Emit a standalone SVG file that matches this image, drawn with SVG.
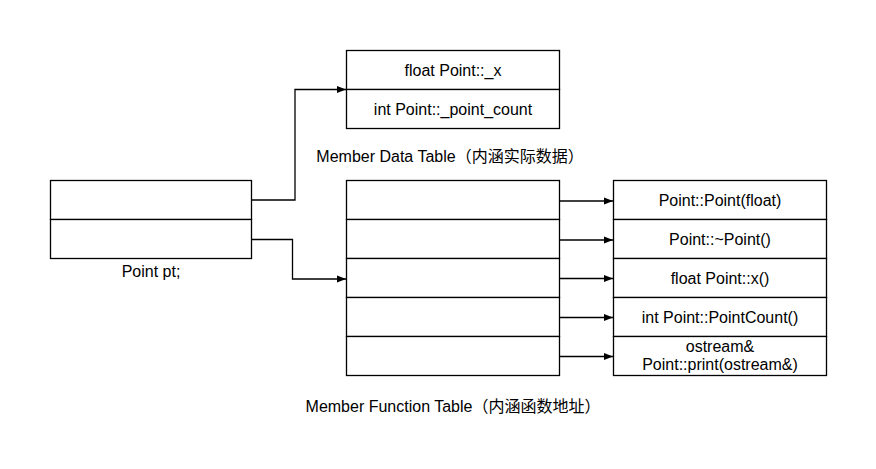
<svg xmlns="http://www.w3.org/2000/svg" width="876" height="469" viewBox="0 0 876 469">
<defs>
<style>
.box{fill:#fff;stroke:#000;stroke-width:1.3}
.t{font-family:"Liberation Sans","Noto Sans CJK SC",sans-serif;font-size:16px;fill:#000;text-anchor:middle}
.c{fill:none;stroke:#000;stroke-width:1.3}
</style>
<marker id="ah" markerWidth="10" markerHeight="8" refX="9" refY="4" orient="auto" markerUnits="userSpaceOnUse">
<path d="M0,0.5 L9,4 L0,7.5 Z" fill="#000"/>
</marker>
</defs>
<rect width="876" height="469" fill="#fff"/>
<g id="point-pt">
<rect class="box" x="50.5" y="180.5" width="201" height="39"/>
<rect class="box" x="50.5" y="219.5" width="201" height="39"/>
<text class="t" x="151" y="277">Point pt;</text>
</g>
<g id="member-data-table">
<rect class="box" x="346.5" y="50.5" width="213" height="39"/>
<rect class="box" x="346.5" y="89.5" width="213" height="39"/>
<text class="t" x="453" y="76">float Point::_x</text>
<text class="t" x="453" y="115">int Point::_point_count</text>
<text class="t" x="450" y="162">Member Data Table（内涵实际数据）</text>
</g>
<g id="member-function-table">
<rect class="box" x="346.5" y="180.5" width="213" height="39"/>
<rect class="box" x="346.5" y="219.5" width="213" height="39"/>
<rect class="box" x="346.5" y="258.5" width="213" height="39"/>
<rect class="box" x="346.5" y="297.5" width="213" height="39"/>
<rect class="box" x="346.5" y="336.5" width="213" height="39"/>
<text class="t" x="453" y="412">Member Function Table（内涵函数地址）</text>
</g>
<g id="functions">
<rect class="box" x="613.5" y="180.5" width="213" height="39"/>
<rect class="box" x="613.5" y="219.5" width="213" height="39"/>
<rect class="box" x="613.5" y="258.5" width="213" height="39"/>
<rect class="box" x="613.5" y="297.5" width="213" height="39"/>
<rect class="box" x="613.5" y="336.5" width="213" height="39"/>
<text class="t" x="720" y="206">Point::Point(float)</text>
<text class="t" x="720" y="245">Point::~Point()</text>
<text class="t" x="720" y="284">float Point::x()</text>
<text class="t" x="720" y="323">int Point::PointCount()</text>
<text class="t" x="720" y="352">ostream&amp;</text>
<text class="t" x="720" y="370">Point::print(ostream&amp;)</text>
</g>
<g id="connectors">
<path class="c" d="M251.5,200 H295 V89.5 H346" marker-end="url(#ah)"/>
<path class="c" d="M251.5,239.5 H292.5 V279 H346" marker-end="url(#ah)"/>
<path class="c" d="M559.5,201 H613" marker-end="url(#ah)"/>
<path class="c" d="M559.5,240 H613" marker-end="url(#ah)"/>
<path class="c" d="M559.5,278.5 H613" marker-end="url(#ah)"/>
<path class="c" d="M559.5,317.5 H613" marker-end="url(#ah)"/>
<path class="c" d="M559.5,356.5 H613" marker-end="url(#ah)"/>
</g>
</svg>
